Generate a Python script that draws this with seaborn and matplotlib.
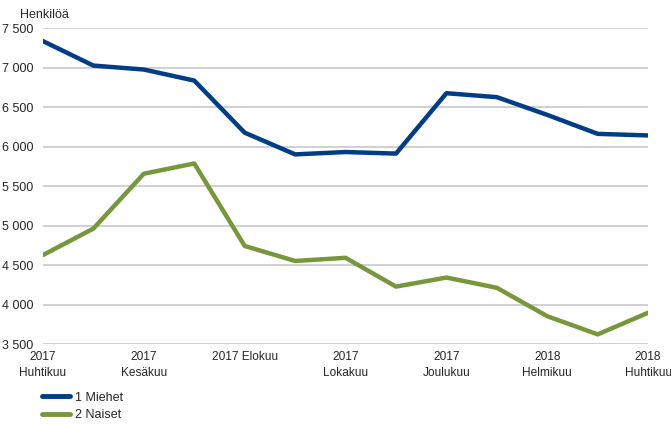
import pandas as pd
import matplotlib
matplotlib.use("Agg")
import matplotlib.pyplot as plt
import seaborn as sns

# Monthly values, April 2017 - April 2018
months = list(range(13))
miehet = [7340, 7030, 6980, 6840, 6180, 5905, 5935, 5915, 6680, 6630, 6405, 6165, 6145]
naiset = [4630, 4965, 5660, 5790, 4745, 4555, 4595, 4230, 4345, 4215, 3855, 3625, 3900]
series_names = ["1 Miehet", "2 Naiset"]
tick_pos = [0, 2, 4, 6, 8, 10, 12]
tick_labels = ["2017\nHuhtikuu", "2017\nKesäkuu", "2017 Elokuu", "2017\nLokakuu",
               "2017\nJoulukuu", "2018\nHelmikuu", "2018\nHuhtikuu"]
y_ticks = [3500, 4000, 4500, 5000, 5500, 6000, 6500, 7000, 7500]

df = pd.DataFrame({
    "kk": months * 2,
    "arvo": miehet + naiset,
    "sarja": [series_names[0]] * 13 + [series_names[1]] * 13,
})

sns.set_style("white")
plt.rcParams["font.family"] = ["Liberation Sans", "DejaVu Sans"]

fig = plt.figure(figsize=(6.71, 4.25), dpi=100)
ax = fig.add_axes([0.064, 0.19, 0.902, 0.743])

palette = {"1 Miehet": "#003d86", "2 Naiset": "#77973d"}
sns.lineplot(data=df, x="kk", y="arvo", hue="sarja", palette=palette,
             linewidth=3.2, ax=ax, legend=False, zorder=3)

ax.set_ylim(3500, 7500)
ax.set_xlim(0, 12)
ax.set_yticks(y_ticks)
ax.set_yticklabels([f"{v:,}".replace(",", " ") for v in y_ticks], fontsize=9)
ax.set_xticks(tick_pos)
ax.set_xticklabels(tick_labels, fontsize=8.6, linespacing=1.4)
ax.tick_params(axis="x", length=0, pad=5)
ax.tick_params(axis="y", length=0, pad=7)
ax.yaxis.grid(True, color="#c8c8c8", linewidth=1.2)
ax.set_axisbelow(True)
for s in ax.spines.values():
    s.set_visible(False)
ax.set_xlabel("")
ax.set_ylabel("")

fig.text(0.03, 0.965, "Henkilöä", fontsize=9, ha="left", va="center")

# legend below the plot
handles = [plt.Line2D([], [], color=palette[n], linewidth=3.5) for n in series_names]
fig.legend(handles, series_names, loc="upper left", bbox_to_anchor=(0.062, 0.078),
           frameon=False, fontsize=9, handlelength=2.3, handletextpad=0.4,
           labelspacing=0.45, borderaxespad=0, borderpad=0)

fig.savefig("out.png", dpi=100)
